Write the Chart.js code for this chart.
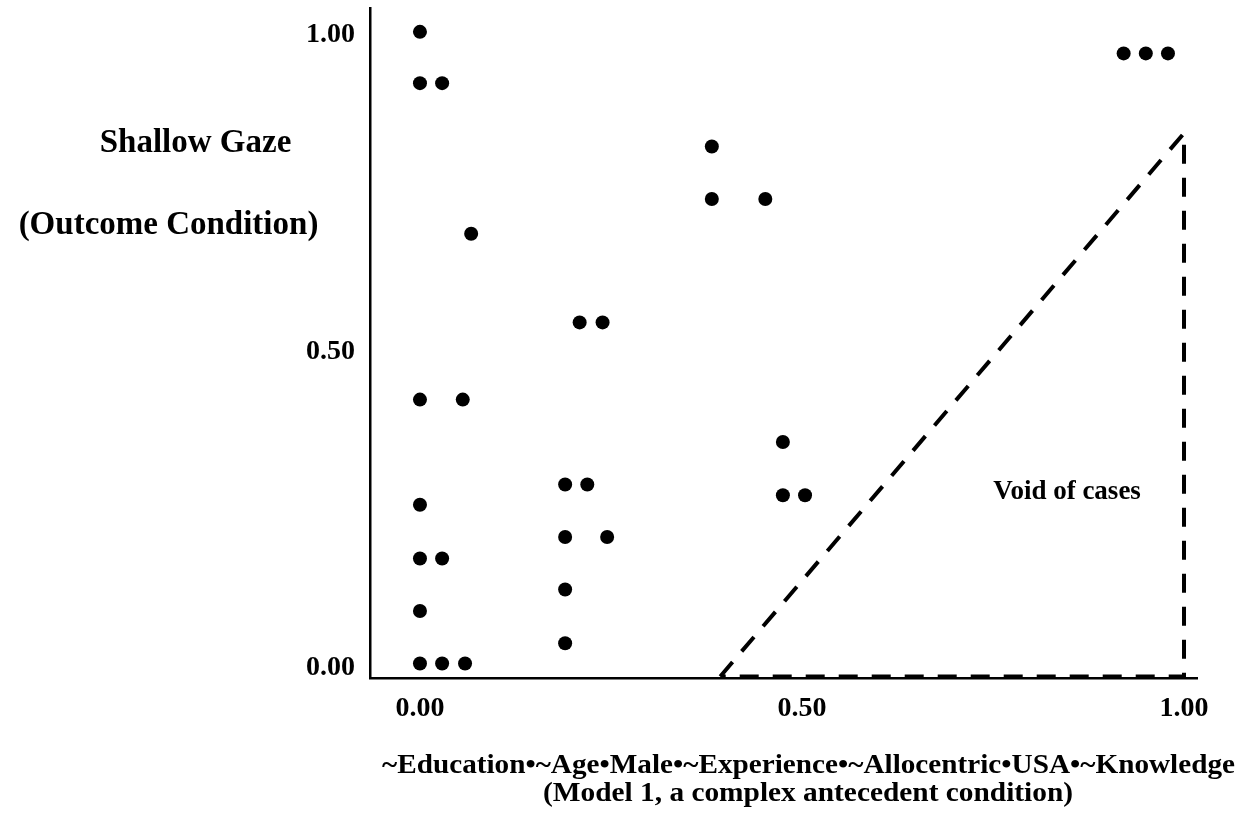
<!DOCTYPE html>
<html><head><meta charset="utf-8">
<script src="https://cdn.jsdelivr.net/npm/chart.js@4/dist/chart.umd.min.js"></script>
<style>html,body{margin:0;padding:0;background:#fff;} #wrap{width:1247px;height:818px;position:relative;}</style>
</head><body><div id="wrap"><canvas id="c" width="1247" height="818"></canvas></div>
<script>
// Cases (fuzzy membership scores)
const caseX = [0, 0, 0.029, 0.067, 0, 0.056, 0, 0, 0.029, 0, 0, 0.029, 0.059,
  0.209, 0.239, 0.190, 0.219, 0.190, 0.245, 0.190, 0.190,
  0.382, 0.382, 0.452, 0.475, 0.475, 0.504, 0.921, 0.950, 0.979];
const caseY = [1.005, 0.924, 0.924, 0.686, 0.424, 0.424, 0.258, 0.173, 0.173, 0.090, 0.007, 0.007, 0.007,
  0.546, 0.546, 0.290, 0.290, 0.207, 0.207, 0.124, 0.039,
  0.824, 0.741, 0.741, 0.357, 0.273, 0.273, 0.971, 0.971, 0.971];
// "Void of cases" triangle outline
const voidX = [0.393, 1.0, 1.0, 0.393];
const voidY = [-0.0134, 0.845, -0.0134, -0.0134];
const tickValues = [0, 0.5, 1];
const tickLabels = ['0.00', '0.50', '1.00'];
const yTitle = ['Shallow Gaze', '(Outcome Condition)'];
const xTitle = ['~Education\u2022~Age\u2022Male\u2022~Experience\u2022~Allocentric\u2022USA\u2022~Knowledge',
  '(Model 1, a complex antecedent condition)'];
const voidLabel = 'Void of cases';

const FONT = "'Liberation Serif','Times New Roman',serif";

const casePoints = caseX.map((x, i) => ({x: x, y: caseY[i]}));
const voidPoints = voidX.map((x, i) => ({x: x, y: voidY[i]}));

const textPlugin = {
  id: 'texts',
  afterDraw(chart) {
    const ctx = chart.ctx;
    ctx.save();
    ctx.fillStyle = '#000';
    ctx.textAlign = 'center';
    ctx.textBaseline = 'alphabetic';
    ctx.font = 'bold 33px ' + FONT;
    ctx.fillText(yTitle[0], 195.5, 152);
    ctx.fillText(yTitle[1], 168.5, 234);
    // x title lines fitted to width
    const fits = [[xTitle[0], 808.5, 773, 853], [xTitle[1], 808, 801, 530]];
    ctx.font = 'bold 28px ' + FONT;
    fits.forEach(([t, cx, by, w]) => {
      const m = ctx.measureText(t).width;
      const s = w / m;
      ctx.save();
      ctx.translate(cx, by);
      ctx.scale(s, 1);
      ctx.fillText(t, 0, 0);
      ctx.restore();
    });
    // annotation
    const xs = chart.scales.x, ys = chart.scales.y;
    ctx.font = 'bold 27px ' + FONT;
    ctx.fillText(voidLabel, xs.getPixelForValue(0.847), ys.getPixelForValue(0.267));
    ctx.restore();
  }
};

function noPad(s) { s.paddingTop = 0; s.paddingBottom = 0; s.paddingLeft = 0; s.paddingRight = 0; }

new Chart(document.getElementById('c'), {
  data: {
    datasets: [
      {
        type: 'scatter',
        data: casePoints,
        pointRadius: 7,
        pointHoverRadius: 7,
        backgroundColor: '#000',
        borderWidth: 0,
        pointBorderWidth: 0
      },
      {
        type: 'line',
        data: voidPoints,
        borderColor: '#000',
        borderWidth: 4,
        borderDash: [19, 14],
        borderCapStyle: 'butt',
        borderJoinStyle: 'miter',
        pointRadius: 0,
        fill: false,
        tension: 0,
        clip: false
      }
    ]
  },
  options: {
    responsive: false,
    animation: false,
    layout: {padding: {top: 8, right: 50, left: 0, bottom: 0}},
    plugins: {legend: {display: false}, tooltip: {enabled: false}},
    scales: {
      x: {
        type: 'linear',
        min: -0.0654,
        max: 1.017,
        afterFit(s) { s.height = 140; noPad(s); },
        afterBuildTicks(s) { s.ticks = tickValues.map(v => ({value: v})); },
        grid: {display: false, drawTicks: false},
        border: {display: true, color: '#000', width: 2.5},
        ticks: {
          color: '#000',
          padding: 14,
          font: {family: FONT, size: 28, weight: 'bold'},
          callback: (v) => tickLabels[tickValues.indexOf(v)],
          maxRotation: 0
        }
      },
      y: {
        type: 'linear',
        min: -0.0158,
        max: 1.0427,
        afterFit(s) { s.width = 370; noPad(s); },
        afterBuildTicks(s) { s.ticks = tickValues.map(v => ({value: v})); },
        grid: {display: false, drawTicks: false},
        border: {display: true, color: '#000', width: 2.5},
        ticks: {
          color: '#000',
          padding: 15,
          font: {family: FONT, size: 28, weight: 'bold'},
          callback: (v) => tickLabels[tickValues.indexOf(v)]
        }
      }
    }
  },
  plugins: [textPlugin]
});
</script>
</body></html>
